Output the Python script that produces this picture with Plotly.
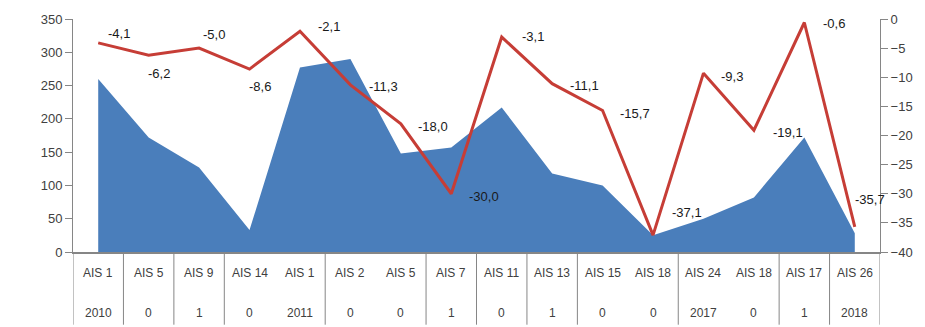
import plotly.graph_objects as go

# ---- data ----
top_labels = ["AIS 1", "AIS 5", "AIS 9", "AIS 14", "AIS 1", "AIS 2", "AIS 5", "AIS 7",
              "AIS 11", "AIS 13", "AIS 15", "AIS 18", "AIS 24", "AIS 18", "AIS 17", "AIS 26"]
sub_labels = ["2010", "0", "1", "0", "2011", "0", "0", "1",
              "0", "1", "0", "0", "2017", "0", "1", "2018"]
group_sizes = [1, 1, 1, 2, 2, 1, 1, 1, 2, 2, 1, 1]

area_values = [260, 172, 127, 33, 277, 290, 148, 157, 217, 118, 100, 25, 50, 82, 172, 28]
line_values = [-4.1, -6.2, -5.0, -8.6, -2.1, -11.3, -18.0, -30.0,
               -3.1, -11.1, -15.7, -37.1, -9.3, -19.1, -0.6, -35.7]

# label offsets (pixels) for the line's data labels
label_dx = [8, -3, 2, -3, 16, 17, 15, 16, 18, 16, 15, 17, 16, 17, 17, -2]
label_dy = [9, -18, 14, -17, 5, -2, -3, -3, 1, -2, -3, 23, -3, -2, -1, 27]

xs = list(range(len(top_labels)))
BLUE = "#4A7EBB"
RED = "#C63D36"
AXIS = "#868686"
FONT = "Liberation Sans, Arial, sans-serif"

fig = go.Figure()
fig.add_trace(go.Scatter(x=xs, y=area_values, mode="lines", fill="tozeroy",
                         line=dict(width=0, color=BLUE), fillcolor=BLUE,
                         showlegend=False, hoverinfo="skip"))
fig.add_trace(go.Scatter(x=xs, y=line_values, mode="lines", yaxis="y2",
                         line=dict(width=3, color=RED), showlegend=False))

annotations = []
for i, v in enumerate(line_values):
    annotations.append(dict(x=xs[i], y=v, xref="x", yref="y2",
                            text=f"{v:.1f}".replace(".", ","), showarrow=False,
                            xanchor="left", yanchor="middle",
                            xshift=label_dx[i], yshift=label_dy[i],
                            font=dict(family=FONT, size=13, color="#1a1a1a")))
for i in xs:
    annotations.append(dict(x=i, y=-0.088, xref="x", yref="paper", text=top_labels[i],
                            showarrow=False, xanchor="center", yanchor="middle",
                            font=dict(family=FONT, size=12, color="#404040")))
    annotations.append(dict(x=i, y=-0.262, xref="x", yref="paper", text=sub_labels[i],
                            showarrow=False, xanchor="center", yanchor="middle",
                            font=dict(family=FONT, size=12, color="#404040")))

# group dividers below the category axis
bounds = [-0.5]
for g in group_sizes:
    bounds.append(bounds[-1] + g)
shapes = [dict(type="line", xref="x", yref="paper", x0=b, x1=b, y0=0, y1=-0.312,
               line=dict(color=AXIS, width=1)) for b in bounds]

fig.update_layout(
    width=925, height=327,
    margin=dict(l=73, r=42, t=18, b=75),
    paper_bgcolor="white", plot_bgcolor="white",
    font=dict(family=FONT, size=13, color="#404040"),
    separators=",.",
    xaxis=dict(range=[-0.5, len(xs) - 0.5], showticklabels=False, ticks="",
               showline=True, linecolor=AXIS, linewidth=1.5, showgrid=False,
               zeroline=False),
    yaxis=dict(range=[0, 350], dtick=50, tick0=0, ticks="outside", ticklen=7,
               tickcolor=AXIS, showline=True, linecolor=AXIS, linewidth=1,
               showgrid=False, zeroline=False,
               tickfont=dict(family=FONT, size=13, color="#404040")),
    yaxis2=dict(range=[-40, 0], dtick=5, tick0=0, overlaying="y", side="right",
                ticks="outside", ticklen=7, tickcolor=AXIS, showline=True,
                linecolor=AXIS, linewidth=1, showgrid=False, zeroline=False,
                tickfont=dict(family=FONT, size=13, color="#404040")),
    annotations=annotations,
    shapes=shapes,
)

fig.write_html("out.html")
